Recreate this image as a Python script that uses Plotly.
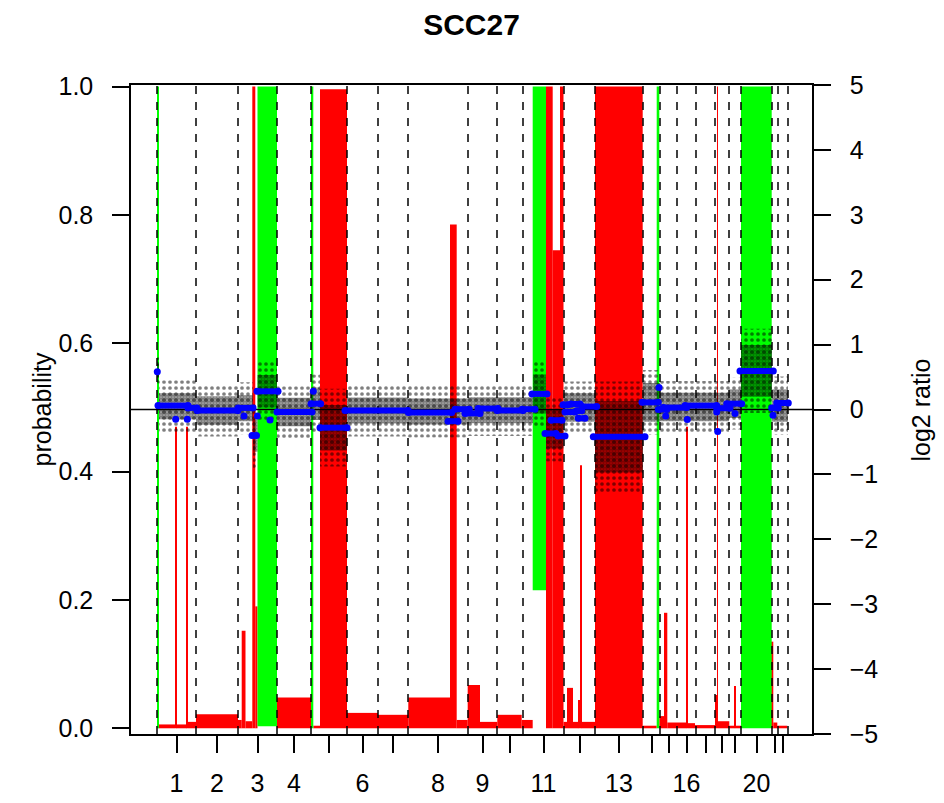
import plotly.graph_objects as go

# ---------------- data ----------------
chrom_names = [str(i) for i in range(1, 23)]
# chromosome boundaries along the genome (probe index)
chrom_bounds = [0, 390, 810, 1200, 1540, 1900, 2210, 2510, 3110, 3400, 3660,
                4070, 4380, 4860, 5030, 5200, 5390, 5580, 5720, 5840, 6150, 6210, 6310]
shown_labels = ["1", "2", "3", "4", "6", "8", "9", "11", "13", "16", "20"]

# HMM state probabilities per segment
seg_start = [0, 15, 180, 195, 295, 310, 390, 810, 847, 885, 953, 983, 1005, 1200, 1547,
             1563, 1630, 1900, 2210, 2513, 2930, 2997, 3107, 3230, 3403, 3647, 3757, 3890,
             3957, 4030, 4065, 4100, 4160, 4213, 4230, 4247, 4380, 4857, 4997, 5023, 5070,
             5103, 5293, 5310, 5380, 5580, 5600, 5610, 5723, 5773, 5787, 5840, 6147, 6163, 6203]
seg_end = [15, 180, 195, 295, 310, 390, 810, 847, 885, 953, 983, 1005, 1200, 1540, 1563,
           1630, 1900, 2210, 2513, 2930, 2997, 3107, 3230, 3403, 3647, 3757, 3890, 3957,
           4030, 4065, 4100, 4160, 4213, 4230, 4247, 4380, 4857, 4997, 5023, 5070, 5103,
           5293, 5310, 5380, 5580, 5600, 5610, 5723, 5773, 5787, 5840, 6147, 6163, 6203, 6303]
p_loss = [0, 0.006, 0.47, 0.006, 0.47, 0.01, 0.022, 0.013, 0.152, 0.011, 1.0, 0.19, 0, 0.048, 0,
          0.004, 0.996, 0.024, 0.021, 0.048, 0.785, 0.013, 0.0675, 0.01, 0.021, 0.013, 0, 1.0,
          0.745, 1.0, 0.01, 0.063, 0.01, 0.044, 0.41, 0.01, 1.0, 0.004, 0, 0.019, 0.18,
          0.009, 0.47, 0.008, 0.005, 0.052, 1.0, 0.011, 0.004, 0.066, 0.004, 0, 0.135, 0.009, 0.004]
p_gain = [1.0, 0, 0, 0, 0, 0, 0, 0, 0, 0, 0, 0, 0.997, 0, 1.0,
          0, 0, 0, 0, 0, 0, 0, 0, 0, 0, 0, 0.785, 0,
          0, 0, 0, 0, 0, 0, 0, 0, 0, 0, 1.0, 0, 0,
          0, 0, 0, 0, 0, 0, 0, 0, 0, 0, 1.0, 0, 0, 0]

# segmented log2 ratio (blue)
cbs_start = [3, 10, 187, 303, 310, 400, 810, 870, 950, 1003, 1000, 1130, 1200, 1563, 1540, 1630,
             1880, 2513, 2910, 2980, 3080, 3210, 3400, 3650, 3750, 3880, 3940, 4010, 4060, 4080,
             4140, 4197, 4213, 4250, 4363, 4850, 5020, 5013, 5087, 5063, 5303, 5280, 5597, 5607,
             5597, 5697, 5780, 5830, 6147, 6160, 6197]
cbs_end = [3, 310, 187, 303, 400, 810, 960, 870, 995, 1003, 1210, 1130, 1550, 1563, 1637, 1900,
           2510, 2947, 3010, 3123, 3230, 3410, 3660, 3780, 3900, 3990, 4050, 4080, 4110, 4180,
           4230, 4247, 4280, 4397, 4880, 5013, 5020, 5097, 5087, 5297, 5303, 5597, 5597, 5607,
           5730, 5847, 5780, 6163, 6213, 6160, 6313]
cbs_mean = [0.58, 0.06, -0.15, -0.15, 0.025, -0.015, 0.025, -0.1, -0.4, -0.1, 0.28, -0.16, -0.04,
            0.28, 0.09, -0.28, -0.015, -0.045, -0.18, 0.005, -0.06, 0.015, -0.015, 0.005, 0.24,
            -0.37, -0.165, -0.41, 0.075, -0.04, 0.085, -0.02, -0.135, 0.045, -0.42, 0.11, 0.34,
            0.0, -0.1, 0.03, -0.155, 0.06, -0.04, -0.34, 0.02, 0.09, -0.06, 0.595, 0.025, -0.09, 0.1]

# raw log2 ratio cloud: region, centre, dense half-width, sparse half-width
cloud_start = [0, 20, 390, 810, 960, 1005, 1200, 1540, 1630, 1900, 2510, 3110, 3760, 3890,
               4065, 4380, 4860, 5030, 5720, 5840, 6150]
cloud_end = [20, 390, 810, 960, 1005, 1200, 1540, 1630, 1900, 2510, 3110, 3760, 3890, 4065,
             4380, 4860, 5030, 5720, 5840, 6150, 6310]
cloud_mid = [0.6, 0.05, -0.015, 0.02, -0.4, 0.28, -0.04, 0.09, -0.28, -0.015, -0.03, -0.01,
             0.24, -0.3, 0.03, -0.42, 0.11, 0.04, 0.09, 0.595, 0.06]
cloud_dense = [0.1, 0.2, 0.22, 0.2, 0.25, 0.25, 0.22, 0.25, 0.35, 0.2, 0.2, 0.2, 0.3, 0.3,
               0.22, 0.55, 0.3, 0.22, 0.22, 0.4, 0.25]
cloud_sparse = [0.2, 0.4, 0.4, 0.4, 0.5, 0.45, 0.4, 0.45, 0.6, 0.4, 0.4, 0.4, 0.5, 0.5,
                0.4, 0.85, 0.5, 0.4, 0.4, 0.65, 0.45]

# ---------------- figure ----------------
PROB_RANGE = [-0.0089, 1.0025]
LOG_RANGE = [-5, 5]
FONT = "Liberation Sans, Arial, sans-serif"
# page body has an 8px margin: figure is sized/margined so the plot box lands on the target pixels
W, H = 936, 795
ML, MT, PW, PH = 123, 77, 681, 649

fig = go.Figure()

# red = loss probability (from 0 upward), green = gain probability (from 1 downward)
rx, rw, rh = [], [], []
gx, gw, gh, gb = [], [], [], []
for s, e, pl, pg in zip(seg_start, seg_end, p_loss, p_gain):
    if pl > 0:
        rx.append((s + e) / 2); rw.append(e - s); rh.append(pl)
    if pg > 0:
        gx.append((s + e) / 2); gw.append(e - s); gh.append(pg); gb.append(1 - pg)

fig.add_trace(go.Bar(x=rx, y=rh, width=rw, base=[0] * len(rh),
                     marker=dict(color="#FF0000", line=dict(width=0)), yaxis="y"))
fig.add_trace(go.Bar(x=gx, y=gh, width=gw, base=gb,
                     marker=dict(color="#00FF00", line=dict(width=0)), yaxis="y"))

# chromosome boundary dashed lines
dx, dy = [], []
for b in chrom_bounds:
    dx += [b, b, None]
    dy += [PROB_RANGE[0], PROB_RANGE[1], None]
fig.add_trace(go.Scatter(x=dx, y=dy, mode="lines", yaxis="y",
                         line=dict(color="black", width=1.5, dash="8px,8px")))

# raw data cloud
def band(hw_list, size, solidity):
    bx, by = [], []
    for s, e, c, h in zip(cloud_start, cloud_end, cloud_mid, hw_list):
        bx += [s, e, e, s, s, None]
        by += [c - h, c - h, c + h, c + h, c - h, None]
    return go.Scatter(x=bx, y=by, mode="lines", fill="toself", yaxis="y2",
                      line=dict(width=0, color="rgba(0,0,0,0)"),
                      fillcolor="rgba(0,0,0,0)",
                      fillpattern=dict(shape=".", fgcolor="black", bgcolor="rgba(0,0,0,0)",
                                       size=size, solidity=solidity, fillmode="overlay"))

fig.add_trace(band(cloud_sparse, 6, 0.3))
fig.add_trace(band(cloud_dense, 3, 0.85))

# zero line
fig.add_trace(go.Scatter(x=[-260, 6550], y=[0, 0], mode="lines", yaxis="y2",
                         line=dict(color="black", width=1.5)))

# segment means
sx, sy = [], []
for s, e, m in zip(cbs_start, cbs_end, cbs_mean):
    if s == e:
        sx += [s, None]; sy += [m, None]
    else:
        sx += [s, e, None]; sy += [m, m, None]
fig.add_trace(go.Scatter(x=sx, y=sy, mode="lines+markers", yaxis="y2",
                         line=dict(color="#0000FF", width=6),
                         marker=dict(color="#0000FF", size=7)))

centers = [(a + b) / 2 for a, b in zip(chrom_bounds[:-1], chrom_bounds[1:])]
ticktext = [n if n in shown_labels else "" for n in chrom_names]

axis_common = dict(showgrid=False, zeroline=False, showline=True, linecolor="black",
                   linewidth=1.5, ticks="outside", ticklen=17, tickwidth=1.5,
                   tickcolor="black", automargin=False,
                   tickfont=dict(family=FONT, size=25, color="black"))

fig.update_layout(
    width=W, height=H,
    margin=dict(l=ML, r=W - ML - PW, t=MT, b=H - MT - PH, autoexpand=False),
    paper_bgcolor="white", plot_bgcolor="white",
    showlegend=False, barmode="overlay",
    title=dict(text="<b>SCC27</b>", x=0.5, xref="paper", xanchor="center",
               y=1 - 16 / H, yref="container", yanchor="middle", automargin=False,
               font=dict(family=FONT, size=30, color="black")),
    xaxis=dict(range=[-260, 6550], tickvals=centers, ticktext=ticktext, mirror=True,
               ticklabelstandoff=9, **axis_common),
    yaxis=dict(range=PROB_RANGE, tickvals=[0, 0.2, 0.4, 0.6, 0.8, 1.0],
               ticktext=["0.0", "0.2", "0.4", "0.6", "0.8", "1.0"], mirror=True,
               ticklabelstandoff=14, **axis_common),
    yaxis2=dict(range=LOG_RANGE, overlaying="y", side="right", anchor="x",
                tickvals=list(range(-5, 6)),
                ticktext=[str(v).replace("-", "\u2212") for v in range(-5, 6)],
                ticklabelstandoff=14, **axis_common),
    annotations=[
        dict(text="probability", xref="paper", yref="paper", x=(41 - 131) / PW, y=0.5,
             textangle=-90, showarrow=False, xanchor="center", yanchor="middle",
             font=dict(family=FONT, size=25, color="black")),
        dict(text="log2 ratio", xref="paper", yref="paper", x=(920 - 131) / PW, y=0.5,
             textangle=-90, showarrow=False, xanchor="center", yanchor="middle",
             font=dict(family=FONT, size=25, color="black")),
    ],
)

fig.write_html("out.html")
